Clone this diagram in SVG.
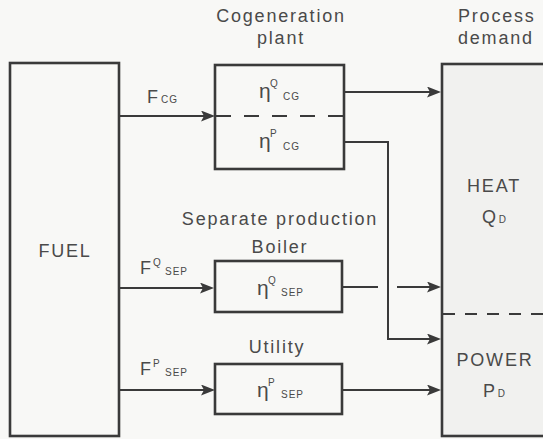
<svg xmlns="http://www.w3.org/2000/svg" width="543" height="439" viewBox="0 0 543 439">
<defs>
<marker id="ah" markerUnits="userSpaceOnUse" markerWidth="16" markerHeight="12" refX="10" refY="5.5" orient="auto">
<path d="M0,0 L14,5.5 L0,11 L3,5.5 z" fill="#3a3a3a"/>
</marker>
</defs>
<style>
.box{fill:none;stroke:#3a3a3a;stroke-width:2.6}
.wire{fill:none;stroke:#3a3a3a;stroke-width:2}
.dash{fill:none;stroke:#3a3a3a;stroke-width:2}
text{font-family:"Liberation Sans",Arial,sans-serif;fill:#4a4a4a;font-size:18px;letter-spacing:1.8px}
.c{text-anchor:middle}
.sub{font-size:10px;letter-spacing:1px}
.sup{font-size:10px;letter-spacing:0}
.eta{font-size:21px;letter-spacing:0}
</style>
<rect x="0" y="0" width="543" height="439" fill="#f8f8f6"/>
<rect x="442" y="64" width="110" height="372" fill="#f1f1ef"/>

<g id="labels-top">
<text class="c" x="281" y="22">Cogeneration</text>
<text class="c" x="281" y="44">plant</text>
<text x="458" y="22">Process</text>
<text x="458" y="44">demand</text>
<text class="c" x="280" y="225">Separate production</text>
<text class="c" x="280" y="253">Boiler</text>
<text class="c" x="277" y="353">Utility</text>
</g>

<g id="fuel">
<rect class="box" x="10" y="63" width="109" height="373"/>
<text class="c" x="65" y="257">FUEL</text>
</g>

<g id="cogen">
<rect class="box" x="215" y="65" width="129" height="104"/>
<line class="dash" x1="216" y1="116" x2="343" y2="116" stroke-dasharray="15 13"/>
<text x="259" y="98"><tspan class="eta">η</tspan><tspan class="sup" x="270" y="87">Q</tspan><tspan class="sub" x="283" y="100">CG</tspan></text>
<text x="259" y="148"><tspan class="eta">η</tspan><tspan class="sup" x="270" y="137">P</tspan><tspan class="sub" x="283" y="150">CG</tspan></text>
</g>

<g id="boiler">
<rect class="box" x="215" y="261" width="127" height="51"/>
<text x="257" y="295"><tspan class="eta">η</tspan><tspan class="sup" x="268" y="284">Q</tspan><tspan class="sub" x="281" y="296">SEP</tspan></text>
</g>

<g id="utility">
<rect class="box" x="215" y="364" width="127" height="50"/>
<text x="257" y="397"><tspan class="eta">η</tspan><tspan class="sup" x="268" y="386">P</tspan><tspan class="sub" x="281" y="398">SEP</tspan></text>
</g>

<g id="process">
<rect class="box" x="442" y="64" width="110" height="372"/>
<line class="dash" x1="443" y1="314" x2="543" y2="314" stroke-dasharray="12 10"/>
<text class="c" x="494" y="192">HEAT</text>
<text x="482" y="223">Q<tspan class="sub" dx="1" dy="0">D</tspan></text>
<text class="c" x="495" y="366">POWER</text>
<text x="483" y="397">P<tspan class="sub" dx="1">D</tspan></text>
</g>

<g id="flow-labels">
<text x="147" y="103">F<tspan class="sub" x="161">CG</tspan></text>
<text x="140" y="274">F<tspan class="sup" x="153" y="266">Q</tspan><tspan class="sub" x="165" y="275">SEP</tspan></text>
<text x="140" y="375">F<tspan class="sup" x="153" y="367">P</tspan><tspan class="sub" x="165" y="376">SEP</tspan></text>
</g>

<g id="connectors">
<line class="wire" x1="119" y1="116" x2="211" y2="116" marker-end="url(#ah)"/>
<line class="wire" x1="119" y1="288" x2="210" y2="288" marker-end="url(#ah)"/>
<line class="wire" x1="119" y1="390" x2="211" y2="390" marker-end="url(#ah)"/>
<line class="wire" x1="344" y1="92" x2="437" y2="92" marker-end="url(#ah)"/>
<path class="wire" d="M344,142 H388 V339 H437" marker-end="url(#ah)"/>
<line class="wire" x1="342" y1="287" x2="437" y2="287" stroke-dasharray="36 19 60" marker-end="url(#ah)"/>
<line class="wire" x1="342" y1="390" x2="437" y2="390" marker-end="url(#ah)"/>
</g>
</svg>
